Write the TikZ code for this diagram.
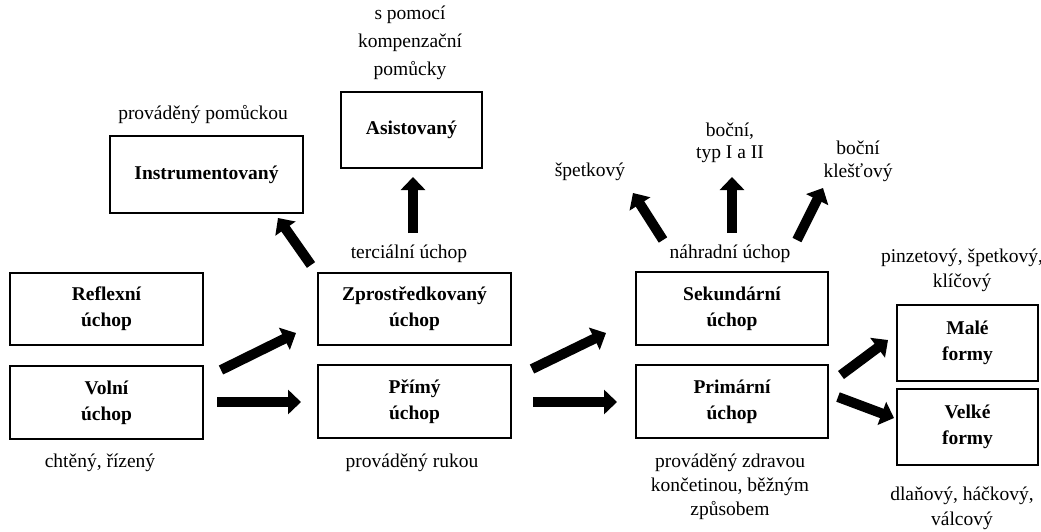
\documentclass[tikz,border=0pt]{standalone}
\usepackage{fontspec}
\setmainfont{Liberation Serif}
\usetikzlibrary{arrows.meta}
\begin{document}
\begin{tikzpicture}[x=1pt,y=-1pt,
  box/.style={draw=black,line width=1.6pt,fill=white,align=center,inner sep=0pt,
    font=\fontsize{19.5}{26}\selectfont\bfseries},
  lbl/.style={align=center,inner sep=0pt,font=\fontsize{19.5}{25}\selectfont},
  fat/.style={line width=10pt,-{Triangle[length=13pt,width=24pt]}}]
\useasboundingbox (0,0) rectangle (1041,531);
% boxes
\node[box,minimum width=193,minimum height=77] (instr) at (206.5,174.5) {Instrumentovaný};
\node[box,minimum width=141,minimum height=76] (asist) at (411.5,130) {Asistovaný};
\node[box,minimum width=193,minimum height=72] (reflex) at (106.5,309) {Reflexní\\úchop};
\node[box,minimum width=193,minimum height=73] (volni) at (106.5,402.5) {Volní\\úchop};
\node[box,minimum width=193,minimum height=72] (zpros) at (414.5,309) {Zprostředkovaný\\úchop};
\node[box,minimum width=193,minimum height=73] (primy) at (414.5,401.5) {Přímý\\úchop};
\node[box,minimum width=192,minimum height=73] (sekund) at (732,308.5) {Sekundární\\úchop};
\node[box,minimum width=192,minimum height=73] (primar) at (732,401.5) {Primární\\úchop};
\node[box,minimum width=141,minimum height=76] (male) at (967.5,343) {Malé\\formy};
\node[box,minimum width=141,minimum height=76] (velke) at (967.5,427) {Velké\\formy};
% labels
\node[lbl] (linstr) at (203,115) {prováděný pomůckou};
\node[lbl,font=\fontsize{19.5}{28}\selectfont] (lasist) at (410,43) {s pomocí\\kompenzační\\pomůcky};
\node[lbl] (lterc) at (409,254) {terciální úchop};
\node[lbl] (lnahr) at (730,254) {náhradní úchop};
\node[lbl] (lspet) at (590,172) {špetkový};
\node[lbl,font=\fontsize{19.5}{22}\selectfont] (lboc1) at (730,143) {boční,\\typ I a II};
\node[lbl,font=\fontsize{19.5}{23}\selectfont] (lboc2) at (858,161) {boční\\klešťový};
\node[lbl] (lmale) at (962,270) {pinzetový, špetkový,\\klíčový};
\node[lbl] (lvelke) at (962,508) {dlaňový, háčkový,\\válcový};
\node[lbl] (lvolni) at (100,463) {chtěný, řízený};
\node[lbl] (lprimy) at (412,463) {prováděný rukou};
\node[lbl,font=\fontsize{19.5}{24}\selectfont] (lprimar) at (730,487) {prováděný zdravou\\končetinou, běžným\\způsobem};
% arrow end coordinates
\coordinate (a1s) at (221,370); \coordinate (a1e) at (296,333);
\coordinate (a2s) at (217,402); \coordinate (a2e) at (301,402);
\coordinate (a3s) at (532,369); \coordinate (a3e) at (606,333);
\coordinate (a4s) at (533,402); \coordinate (a4e) at (617,402);
\coordinate (a5s) at (311,265); \coordinate (a5e) at (278,218);
\coordinate (a6s) at (413,233); \coordinate (a6e) at (413,177);
\coordinate (a7s) at (663,240); \coordinate (a7e) at (633,193);
\coordinate (a8s) at (732,233); \coordinate (a8e) at (732,177);
\coordinate (a9s) at (797,240); \coordinate (a9e) at (823,188);
\coordinate (a10s) at (841,375); \coordinate (a10e) at (888,340);
\coordinate (a11s) at (838,397); \coordinate (a11e) at (894,418);
\foreach \i in {1,...,11} {\draw[fat] (a\i s) -- (a\i e);}
\end{tikzpicture}
\end{document}
